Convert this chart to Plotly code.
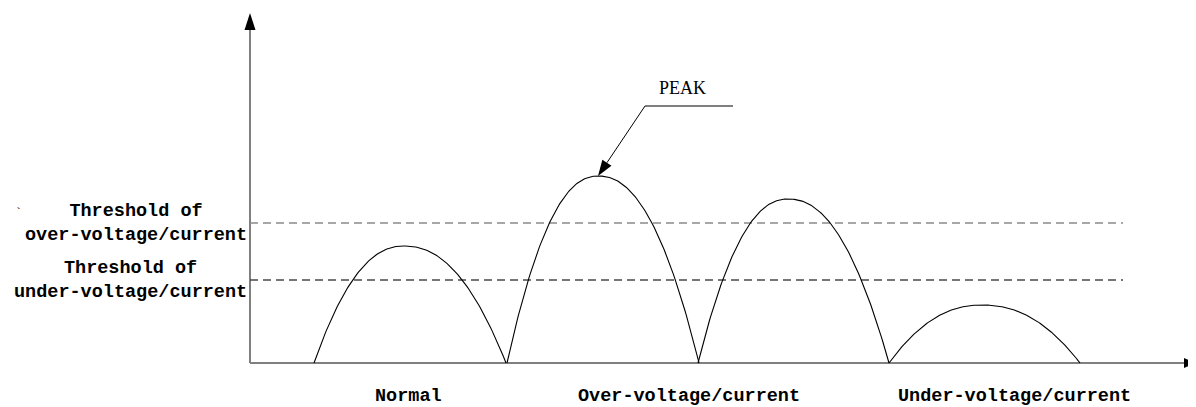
import numpy as np
import plotly.graph_objects as go

# ---- data (units: arbitrary signal units) ----
arch_start = [64, 257, 448, 639]
arch_peak_x = [154, 348, 538, 732]
arch_end = [256, 449, 639, 830]
arch_height = [117, 187, 164, 58]

threshold_values = [140, 83]
threshold_labels = ["Threshold of<br>over-voltage/current", "Threshold of<br>under-voltage/current"]
threshold_colors = ["#8a8a8a", "#4a4a4a"]
threshold_end = 873

category_labels = ["Normal", "Over-voltage/current", "Under-voltage/current"]
category_x = [158, 439, 764]

peak_label = "PEAK"
peak_tail = (395, 257)
peak_leader_end = 483

x_axis_end = 945
y_axis_end = 350

FONT = "Liberation Mono"

fig = go.Figure()

# arches
for s, p, e, h in zip(arch_start, arch_peak_x, arch_end, arch_height):
    xl = np.linspace(s, p, 80)
    xr = np.linspace(p, e, 80)[1:]
    ul = np.abs((xl - p) / (p - s))
    ur = np.abs((xr - p) / (e - p))
    x = np.concatenate([xl, xr])
    y = np.concatenate([h * (1 - ul ** 2.2), h * (1 - ur ** 2.2)])
    fig.add_trace(go.Scatter(x=x, y=y, mode="lines",
                             line=dict(color="black", width=1.1),
                             hoverinfo="skip", showlegend=False))

shapes = []
# axes
shapes.append(dict(type="line", xref="x", yref="y", x0=0, x1=x_axis_end - 10, y0=0, y1=0,
                   line=dict(color="#808080", width=2), layer="below"))
shapes.append(dict(type="line", xref="x", yref="y", x0=0, x1=0, y0=0, y1=y_axis_end - 16,
                   line=dict(color="#808080", width=2), layer="below"))
# axis arrowheads (pixel sized)
shapes.append(dict(type="path", xref="x", yref="y", xsizemode="pixel", ysizemode="pixel",
                   xanchor=x_axis_end, yanchor=0, path="M0,0 L-11,5 L-11,-5 Z",
                   fillcolor="black", line=dict(color="black", width=0)))
shapes.append(dict(type="path", xref="x", yref="y", xsizemode="pixel", ysizemode="pixel",
                   xanchor=0, yanchor=y_axis_end, path="M0,0 L-5.5,-17 L5.5,-17 Z",
                   fillcolor="black", line=dict(color="black", width=0)))

# thresholds
for v, c in zip(threshold_values, threshold_colors):
    shapes.append(dict(type="line", xref="x", yref="y", x0=0, x1=threshold_end, y0=v, y1=v,
                       line=dict(color=c, width=1.3, dash="8px,5px"), layer="below"))

# PEAK leader
tip = np.array([arch_peak_x[1], arch_height[1]], dtype=float)
tail = np.array(peak_tail, dtype=float)
d = (tip - tail) / np.linalg.norm(tip - tail)
n = np.array([-d[1], d[0]])
hl, hw = 16, 5.5
base = -d * hl
p1 = base + n * hw
p2 = base - n * hw
shapes.append(dict(type="line", xref="x", yref="y", x0=peak_tail[0], y0=peak_tail[1],
                   x1=peak_leader_end, y1=peak_tail[1], line=dict(color="black", width=1)))
shapes.append(dict(type="line", xref="x", yref="y", x0=peak_tail[0], y0=peak_tail[1],
                   x1=tip[0] + base[0], y1=tip[1] + base[1], line=dict(color="black", width=1)))
shapes.append(dict(type="path", xref="x", yref="y", xsizemode="pixel", ysizemode="pixel",
                   xanchor=tip[0], yanchor=tip[1],
                   path=f"M0,0 L{p1[0]:.2f},{p1[1]:.2f} L{p2[0]:.2f},{p2[1]:.2f} Z",
                   fillcolor="black", line=dict(color="black", width=0)))

annotations = []
for v, t in zip(threshold_values, threshold_labels):
    annotations.append(dict(xref="paper", yref="y", x=0, y=v, xanchor="right", yanchor="middle",
                            xshift=9, text=t, showarrow=False, align="center",
                            font=dict(family=FONT, size=18.5, color="black", weight="bold")))
for cx, t in zip(category_x, category_labels):
    annotations.append(dict(xref="x", yref="paper", x=cx, y=0, xanchor="center", yanchor="middle",
                            yshift=-23, text=t, showarrow=False,
                            font=dict(family=FONT, size=18.5, color="black", weight="bold")))
annotations.append(dict(xref="x", yref="y", x=(peak_tail[0] + peak_leader_end) / 2 - 7,
                        y=peak_tail[1] + 18, text=peak_label, showarrow=False,
                        xanchor="center", yanchor="middle",
                        font=dict(family="Liberation Serif", size=18, color="black")))
annotations.append(dict(xref="paper", yref="y", x=0, y=threshold_values[0] + 9, xanchor="center",
                        yanchor="middle", xshift=-222, text="`", showarrow=False,
                        font=dict(family=FONT, size=12, color="black")))

# the page body adds an 8px offset, so the figure is 8px smaller and shifted
fig.update_layout(
    width=1188, height=399,
    margin=dict(l=232, r=0, t=5, b=34),
    paper_bgcolor="white", plot_bgcolor="white",
    xaxis=dict(range=[-10, 946], visible=False, fixedrange=True),
    yaxis=dict(range=[-10, 350], visible=False, fixedrange=True),
    shapes=shapes, annotations=annotations,
    showlegend=False,
)

fig.write_html("out.html")
